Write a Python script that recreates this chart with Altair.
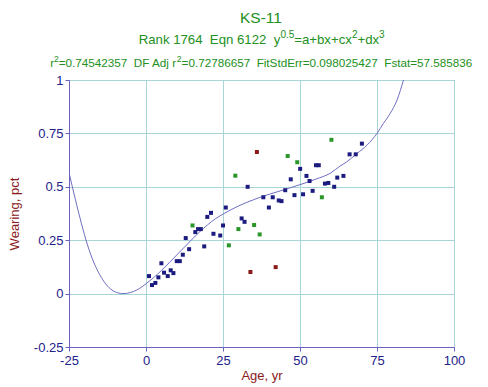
import altair as alt
import pandas as pd

# ---------------- data ----------------
blue_x = [0.98, 1.95, 3.04, 4.02, 5.0, 5.86, 7.06, 8.03, 8.9, 9.99, 10.97, 11.95, 12.9, 14.0,
          16.0, 16.9, 17.8, 18.9, 19.9, 21.1, 21.9, 24.1, 25.0, 25.9, 31.05, 32.0, 33.0, 38.1,
          39.9, 41.15, 43.1, 44.0, 45.2, 47.0, 48.2, 50.05, 51.0, 52.1, 53.1, 54.1, 55.2, 56.1,
          58.1, 59.2, 61.1, 62.1, 64.1, 66.1, 68.1, 70.1]
blue_y = [0.082, 0.040, 0.050, 0.076, 0.142, 0.098, 0.082, 0.109, 0.096, 0.152, 0.152, 0.182,
          0.260, 0.208, 0.288, 0.302, 0.302, 0.221, 0.359, 0.378, 0.280, 0.272, 0.319, 0.403,
          0.352, 0.336, 0.500, 0.451, 0.403, 0.451, 0.436, 0.433, 0.484, 0.535, 0.461, 0.584,
          0.465, 0.551, 0.527, 0.481, 0.601, 0.601, 0.515, 0.518, 0.500, 0.543, 0.551, 0.652,
          0.652, 0.702]
green_x = [15.1, 26.9, 29.0, 30.0, 35.1, 36.9, 46.0, 49.1, 57.1, 60.2]
green_y = [0.319, 0.226, 0.552, 0.302, 0.321, 0.277, 0.644, 0.615, 0.451, 0.720]
red_x = [36.0, 33.9, 42.1]
red_y = [0.663, 0.101, 0.124]

curve_x = [-25, -23, -21, -19, -17, -15, -13, -11, -9, -7.5, -6, -4, -2, 0, 2.5, 5, 7.5, 10,
           12.5, 15, 17.5, 20, 22.5, 25, 30, 35, 40, 45, 50, 55, 60, 63, 65, 68.5, 71.75, 75,
           77.1, 79.3, 81.5, 83.6]
curve_y = [0.567, 0.445, 0.330, 0.228, 0.148, 0.088, 0.044, 0.016, 0.003, 0.0, 0.002, 0.010,
           0.025, 0.046, 0.075, 0.108, 0.144, 0.181, 0.218, 0.255, 0.290, 0.322, 0.350, 0.372,
           0.410, 0.440, 0.465, 0.487, 0.510, 0.535, 0.565, 0.597, 0.615, 0.656, 0.695, 0.750,
           0.797, 0.844, 0.906, 1.0]

x_ticks = [-25, 0, 25, 50, 75, 100]
y_ticks = [-0.25, 0, 0.25, 0.5, 0.75, 1]

NB = "\u00a0"
title_text = "KS-11"
line2 = [("Rank 1764 " + NB + "Eqn 6122 " + NB + "y", False), ("0.5", True), ("=a+bx+cx", False),
         ("2", True), ("+dx", False), ("3", True)]
line3 = [("r", False), ("2", True), ("=0.74542357 " + NB + "DF Adj r", False), ("2", True),
         ("=0.72786657 " + NB + "FitStdErr=0.098025427 " + NB + "Fstat=57.585836", False)]

# ---------------- styles ----------------
NAVY = "#1c1c80"
GREEN = "#2a962a"
RED = "#8b1a1a"
AXIS = "#6a60c0"
GRID = "#a8d6d6"
CURVE = "#6e6ec4"
TITLE_GREEN = "#229022"
AXIS_TITLE = "#8b1a1a"
LABEL = "#22228a"

W_PX, H_PX = 385, 267
PAD_L, PAD_T = 61, 72

pts = pd.DataFrame({
    "x": blue_x + green_x + red_x,
    "y": blue_y + green_y + red_y,
    "g": ["a"] * len(blue_x) + ["b"] * len(green_x) + ["c"] * len(red_x),
})
curve = pd.DataFrame({"x": curve_x, "y": curve_y})

xs = alt.Scale(domain=[-25, 100], nice=False, zero=False)
ys = alt.Scale(domain=[-0.25, 1], nice=False, zero=False)

neg_fmt = "datum.value < 0 ? '-' + format(-datum.value, '~g') : format(datum.value, '~g')"

xaxis = alt.Axis(values=x_ticks, title="Age, yr", labelExpr=neg_fmt, labelFlush=False,
                 labelOverlap=False, tickSize=4, labelPadding=3, titlePadding=2)
yaxis = alt.Axis(values=y_ticks, title="Wearing, pct", labelExpr=neg_fmt, labelFlush=False,
                 labelOverlap=False, tickSize=4, labelPadding=2, titlePadding=12)

line = alt.Chart(curve).mark_line(color=CURVE, strokeWidth=1, clip=True,
                                  interpolate="monotone").encode(
    x=alt.X("x:Q", scale=xs, axis=xaxis),
    y=alt.Y("y:Q", scale=ys, axis=yaxis),
)

points = alt.Chart(pts).mark_square(size=16, opacity=1).encode(
    x=alt.X("x:Q", scale=xs),
    y=alt.Y("y:Q", scale=ys),
    color=alt.Color("g:N", scale=alt.Scale(domain=["a", "b", "c"], range=[NAVY, GREEN, RED]),
                    legend=None),
)

# Arial / Liberation Sans advance widths (per 1000 em)
WID = {' ': 278, NB: 278, '.': 278, '=': 584, '+': 584, '-': 333, ',': 278,
       'a': 556, 'b': 556, 'c': 500, 'd': 556, 'e': 556, 'g': 556, 'i': 222, 'j': 222,
       'k': 500, 'n': 556, 'q': 556, 'r': 333, 's': 500, 't': 278, 'x': 500, 'y': 500,
       'A': 667, 'D': 722, 'E': 667, 'F': 611, 'K': 667, 'R': 722, 'S': 667}
for d in "0123456789":
    WID[d] = 556


def tw(s, size):
    return sum(WID.get(ch, 556) for ch in s) * size / 1000.0


def text_line(pieces, size, sup_size, center_page_x, base_page_y, sup_page_y, color):
    total = sum(tw(t, sup_size if sup else size) for t, sup in pieces)
    x = center_page_x - total / 2.0
    layers = []
    for t, sup in pieces:
        fs = sup_size if sup else size
        by = sup_page_y if sup else base_page_y
        layers.append(
            alt.Chart(pd.DataFrame({"t": [t]})).mark_text(
                align="left", baseline="alphabetic", font="Liberation Sans", fontSize=fs,
                color=color
            ).encode(text="t:N", x=alt.value(x - 8 - PAD_L), y=alt.value(by - 8 - PAD_T))
        )
        x += tw(t, fs)
    return layers


texts = []
texts += text_line([(title_text, False)], 15.5, 10, 261.5, 22.5, 10, TITLE_GREEN)
texts += text_line(line2, 13.2, 10, 261.7, 44.3, 37.5, TITLE_GREEN)
texts += text_line(line3, 11.7, 8.5, 261.4, 66.6, 62.3, TITLE_GREEN)

chart = alt.layer(line, points, *texts).properties(
    width=W_PX, height=H_PX,
    autosize=alt.AutoSizeParams(type="none"),
    padding={"left": PAD_L, "top": PAD_T, "right": 20, "bottom": 37},
).configure_view(
    stroke=AXIS, strokeWidth=1
).configure_axis(
    grid=True, gridColor=GRID, gridWidth=1,
    domainColor=AXIS, tickColor=AXIS,
    labelColor=LABEL, labelFont="Liberation Sans", labelFontSize=13,
    titleColor=AXIS_TITLE, titleFont="Liberation Sans", titleFontSize=13,
    titleFontWeight="normal",
)

chart.save("out.html", embed_options={"renderer": "svg", "actions": False})
